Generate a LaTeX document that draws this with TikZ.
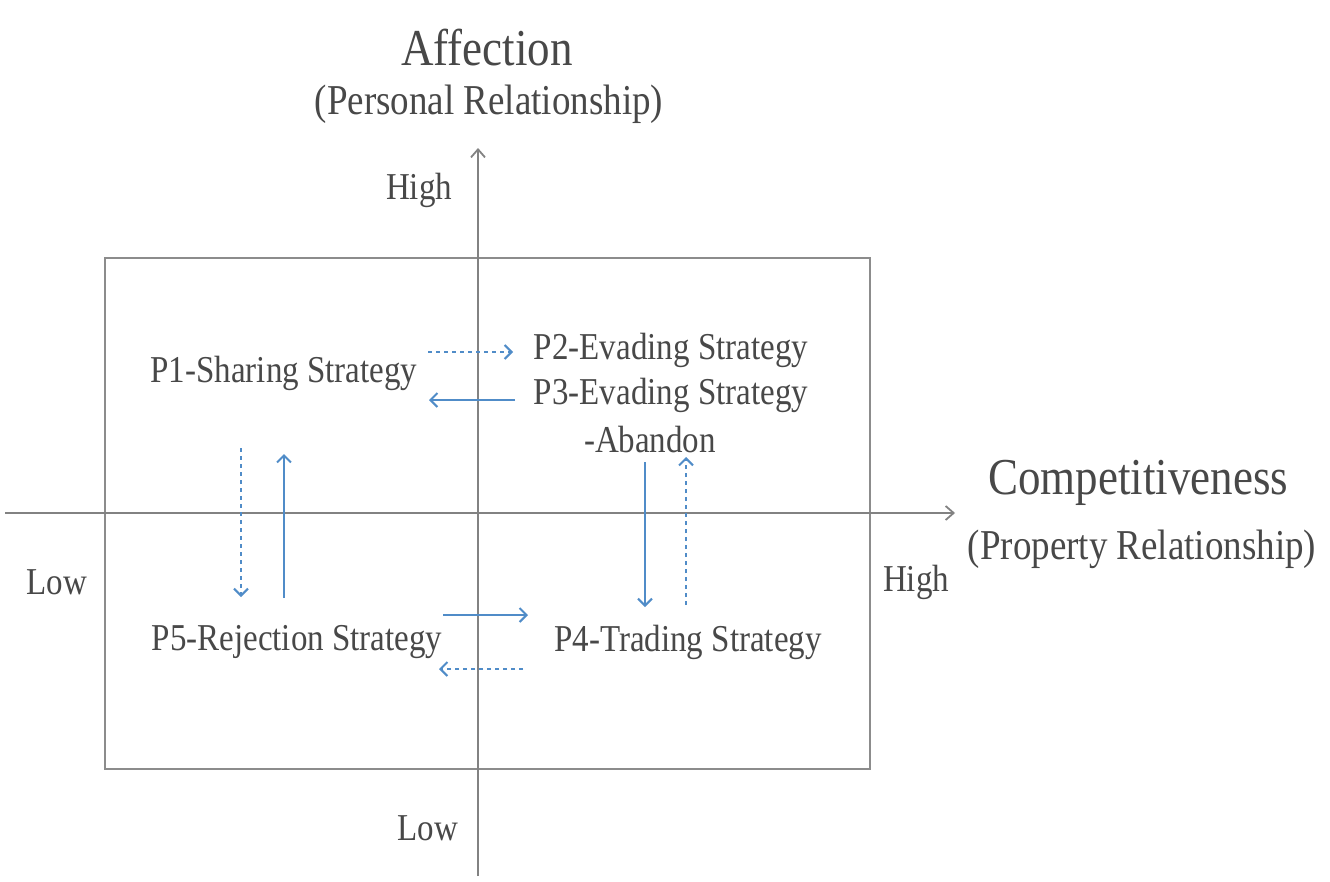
\documentclass[tikz,border=0pt]{standalone}
\usepackage{fontspec}
\setmainfont{Liberation Serif}
\usetikzlibrary{arrows.meta}
\definecolor{txt}{RGB}{72,72,72}
\definecolor{axisc}{RGB}{130,130,130}
\definecolor{boxc}{RGB}{140,140,140}
\definecolor{arr}{RGB}{80,140,200}
\newcommand\tallt[1]{\scalebox{1}[1.15]{#1}}
\tikzset{
  lbl/.style={text=txt, font=\fontsize{33}{36}\selectfont, inner sep=0pt, anchor=center},
  big/.style={text=txt, font=\fontsize{45}{48}\selectfont, inner sep=0pt, anchor=center},
  paren/.style={text=txt, font=\fontsize{37}{40}\selectfont, inner sep=0pt, anchor=center},
  axisline/.style={draw=axisc, line width=2.2pt, -{Straight Barb[length=8pt,width=14pt,line width=1.8pt]}},
  solidarr/.style={draw=arr, line width=2.4pt, -{Straight Barb[length=7pt,width=14pt,line width=2pt]}},
  dotarr/.style={draw=arr, line width=2.4pt, dash pattern=on 4pt off 4pt, -{Straight Barb[length=7pt,width=14pt,line width=2pt]}}
}
\begin{document}
\begin{tikzpicture}[x=1pt,y=-1pt]
\useasboundingbox[fill=white] (0,0) rectangle (1330,881);
% box
\draw[boxc, line width=2pt] (105,258) rectangle (870,769);
% axes
\coordinate (vb) at (478,876);
\coordinate (vt) at (478,148);
\coordinate (hl) at (5,513);
\coordinate (hr) at (955,513);
\draw[axisline] (vb) -- (vt);
\draw[axisline] (hl) -- (hr);
% titles
\node[big] (aff) at (487,48) {\tallt{Affection}};
\node[paren] (pers) at (489,104) {\tallt{(Personal Relationship)}};
\node[big] (comp) at (1138,483) {\tallt{Competitiveness}};
\node[paren] (prop) at (1142,549) {\tallt{(Property Relationship)}};
\node[lbl] (hiy) at (419,190) {\tallt{High}};
\node[lbl] (loy) at (428,828) {\tallt{Low}};
\node[lbl] (lox) at (57,582) {\tallt{Low}};
\node[lbl] (hix) at (916,582) {\tallt{High}};
% strategies
\node[lbl] (p1) at (284,373) {\tallt{P1-Sharing Strategy}};
\node[lbl] (p2) at (671,350) {\tallt{P2-Evading Strategy}};
\node[lbl] (p3) at (671,395) {\tallt{P3-Evading Strategy}};
\node[lbl] (p3b) at (650,440) {\tallt{-Abandon}};
\node[lbl] (p5) at (297,642) {\tallt{P5-Rejection Strategy}};
\node[lbl] (p4) at (688,642) {\tallt{P4-Trading Strategy}};
% arrow end points
\coordinate (a1s) at (428,352); \coordinate (a1e) at (513,352);
\coordinate (a2s) at (515,400); \coordinate (a2e) at (429,400);
\coordinate (a3s) at (241,448); \coordinate (a3e) at (241,597);
\coordinate (a4s) at (284,598); \coordinate (a4e) at (284,454);
\coordinate (a5s) at (645,462); \coordinate (a5e) at (645,607);
\coordinate (a6s) at (686,605); \coordinate (a6e) at (686,457);
\coordinate (a7s) at (443,615); \coordinate (a7e) at (528,615);
\coordinate (a8s) at (523,669); \coordinate (a8e) at (439,669);
\draw[dotarr] (a1s) -- (a1e);
\draw[solidarr] (a2s) -- (a2e);
\draw[dotarr] (a3s) -- (a3e);
\draw[solidarr] (a4s) -- (a4e);
\draw[solidarr] (a5s) -- (a5e);
\draw[dotarr] (a6s) -- (a6e);
\draw[solidarr] (a7s) -- (a7e);
\draw[dotarr] (a8s) -- (a8e);
\end{tikzpicture}
\end{document}
